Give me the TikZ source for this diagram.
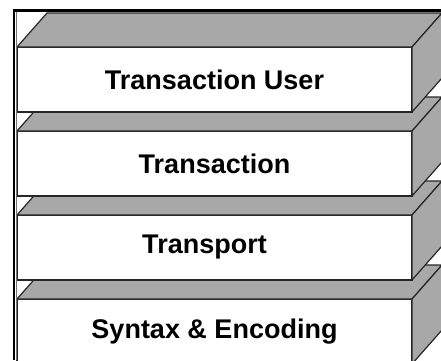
\documentclass[tikz,border=0pt]{standalone}
\usepackage{fontspec}
\setsansfont{Liberation Sans}
\usetikzlibrary{positioning,calc}
\definecolor{lidgray}{gray}{0.66}

% top and right faces of a layer, drawn from its front face
\newcommand{\slabsides}[1]{%
  \draw[lid] (#1.north west) -- ++(30pt,34pt)
      -- ($(#1.north east)+(30pt,34pt)$) -- (#1.north east) -- cycle;
  \draw[lid] (#1.north east) -- ++(30pt,34pt)
      -- ($(#1.south east)+(30pt,34pt)$) -- (#1.south east) -- cycle;
}

\begin{document}
\begin{tikzpicture}[
    every node/.style={inner sep=0, outer sep=0},
    slab/.style={draw=black!85, line width=1.2pt, fill=white,
        minimum width=395pt, minimum height=65pt,
        font=\sffamily\bfseries\fontsize{27}{32}\selectfont},
    lid/.style={draw=black!85, line width=1.2pt, fill=lidgray, line join=round}
]
\useasboundingbox (0,0) rectangle (441pt,360pt);
\node[slab] (syntax) at (214.5pt,28.5pt) {Syntax \& Encoding} ;
\slabsides{syntax}
\node[slab, above=19pt of syntax] (transport) {\hspace*{-20pt}Transport} ;
\slabsides{transport}
\node[slab, above=19pt of transport] (transaction) {Transaction} ;
\slabsides{transaction}
\node[slab, above=19pt of transaction] (tu) {Transaction User} ;
\slabsides{tu}
% frame
\draw[black!55, line width=1.2pt] (16.6pt,0) -- (16.6pt,348pt) ;
\draw[black, line width=2.5pt] (14pt,0) -- (14pt,349.5pt) -- (441pt,349.5pt) ;
\end{tikzpicture}
\end{document}
